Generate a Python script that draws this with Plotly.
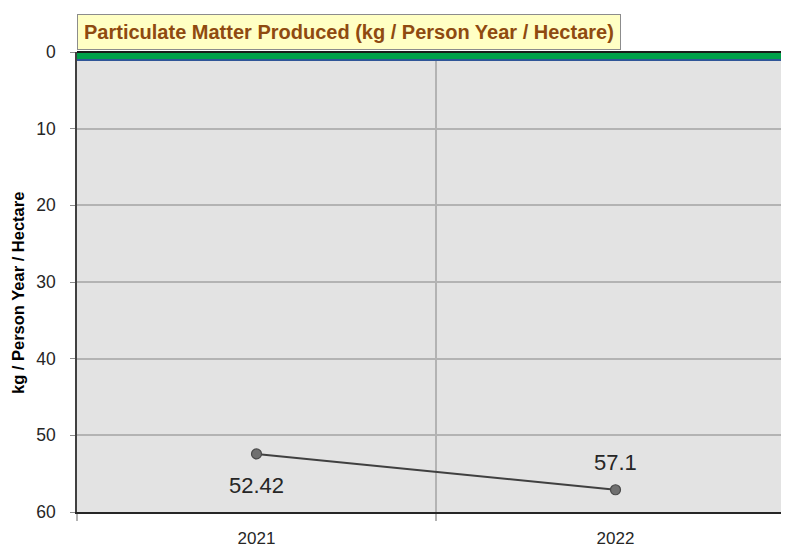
import plotly.graph_objects as go

years = ["2021", "2022"]
values = [52.42, 57.1]
value_labels = ["52.42", "57.1"]
label_shift = [-32, 27]
y_ticks = [0, 10, 20, 30, 40, 50, 60]

title_text = "Particulate Matter Produced (kg / Person Year / Hectare)"
y_title = "kg / Person Year / Hectare"

# page has an 8px body margin
OFF = 8
W, H = 789 - 2 * OFF, 547 - OFF
PL, PT, PB = 77, 52, 512          # plot area edges in window pixels
L, R, T = PL - OFF, 0, PT - OFF
B = H - (PB - OFF)
plot_w = W - L - R
plot_h = H - T - B
CAT_STEP = 359                     # pixels between categories in the reference
x_hi = -0.5 + plot_w / CAT_STEP

def px_x(px):
    return (px - PL) / plot_w

def px_y(py):
    return 1 - (py - PT) / plot_h

FONT = "Liberation Sans"

fig = go.Figure()
fig.add_trace(go.Scatter(
    x=years, y=values, mode="lines+markers",
    line=dict(color="#404040", width=2),
    marker=dict(size=10, color="#707070", line=dict(color="#4a4a4a", width=1.2)),
    showlegend=False, hoverinfo="skip", cliponaxis=False,
))

for i, (yv, lab, sh) in enumerate(zip(values, value_labels, label_shift)):
    fig.add_annotation(x=i, y=yv, text=lab, showarrow=False, yshift=sh,
                       font=dict(family=FONT, size=22, color="#262626"))

# Title box
fig.add_annotation(xref="paper", yref="paper", x=0, y=1, xanchor="left", yanchor="bottom",
                   yshift=2, text="<b>" + title_text + "</b>", showarrow=False,
                   bgcolor="#ffffc4", bordercolor="#8c8c8c", borderwidth=1, borderpad=6,
                   font=dict(family=FONT, size=20, color="#8f4a10"))

# Y-axis title
fig.add_annotation(xref="paper", yref="paper", x=px_x(18), y=px_y(293),
                   xanchor="center", yanchor="middle",
                   text="<b>" + y_title + "</b>", textangle=-90, showarrow=False,
                   font=dict(family=FONT, size=16.5, color="#000000"))

# Top band: black, green, blue
fig.add_shape(type="rect", xref="paper", yref="paper", x0=0, x1=1, y0=px_y(53), y1=px_y(51),
              fillcolor="#1a1a1a", line_width=0, layer="above")
fig.add_shape(type="rect", xref="paper", yref="paper", x0=0, x1=1, y0=px_y(59), y1=px_y(53),
              fillcolor="#00a04a", line_width=0, layer="above")
fig.add_shape(type="rect", xref="paper", yref="paper", x0=0, x1=1, y0=px_y(61), y1=px_y(59),
              fillcolor="#2f5597", line_width=0, layer="above")

fig.update_layout(
    width=W, height=H,
    margin=dict(l=L, r=R, t=T, b=B, pad=0, autoexpand=False),
    paper_bgcolor="#ffffff", plot_bgcolor="#e3e3e3",
    xaxis=dict(
        type="category", range=[-0.5, x_hi], tickson="boundaries", automargin=False,
        showgrid=True, gridcolor="#b3b3b3", gridwidth=1.5,
        showline=True, linecolor="#262626", linewidth=2,
        ticks="outside", ticklen=7, tickcolor="#b3b3b3", tickwidth=1.5,
        tickfont=dict(family=FONT, size=17, color="#262626"),
        ticklabelstandoff=10, zeroline=False, fixedrange=True,
    ),
    yaxis=dict(
        range=[60, 0], tickvals=y_ticks, automargin=False,
        showgrid=True, gridcolor="#b3b3b3", gridwidth=1.5,
        showline=True, linecolor="#404040", linewidth=1.5,
        ticks="outside", ticklen=5, tickcolor="#8c8c8c",
        tickfont=dict(family=FONT, size=17.5, color="#262626"),
        ticklabelstandoff=11, zeroline=False, fixedrange=True,
    ),
)

fig.write_html("out.html")
